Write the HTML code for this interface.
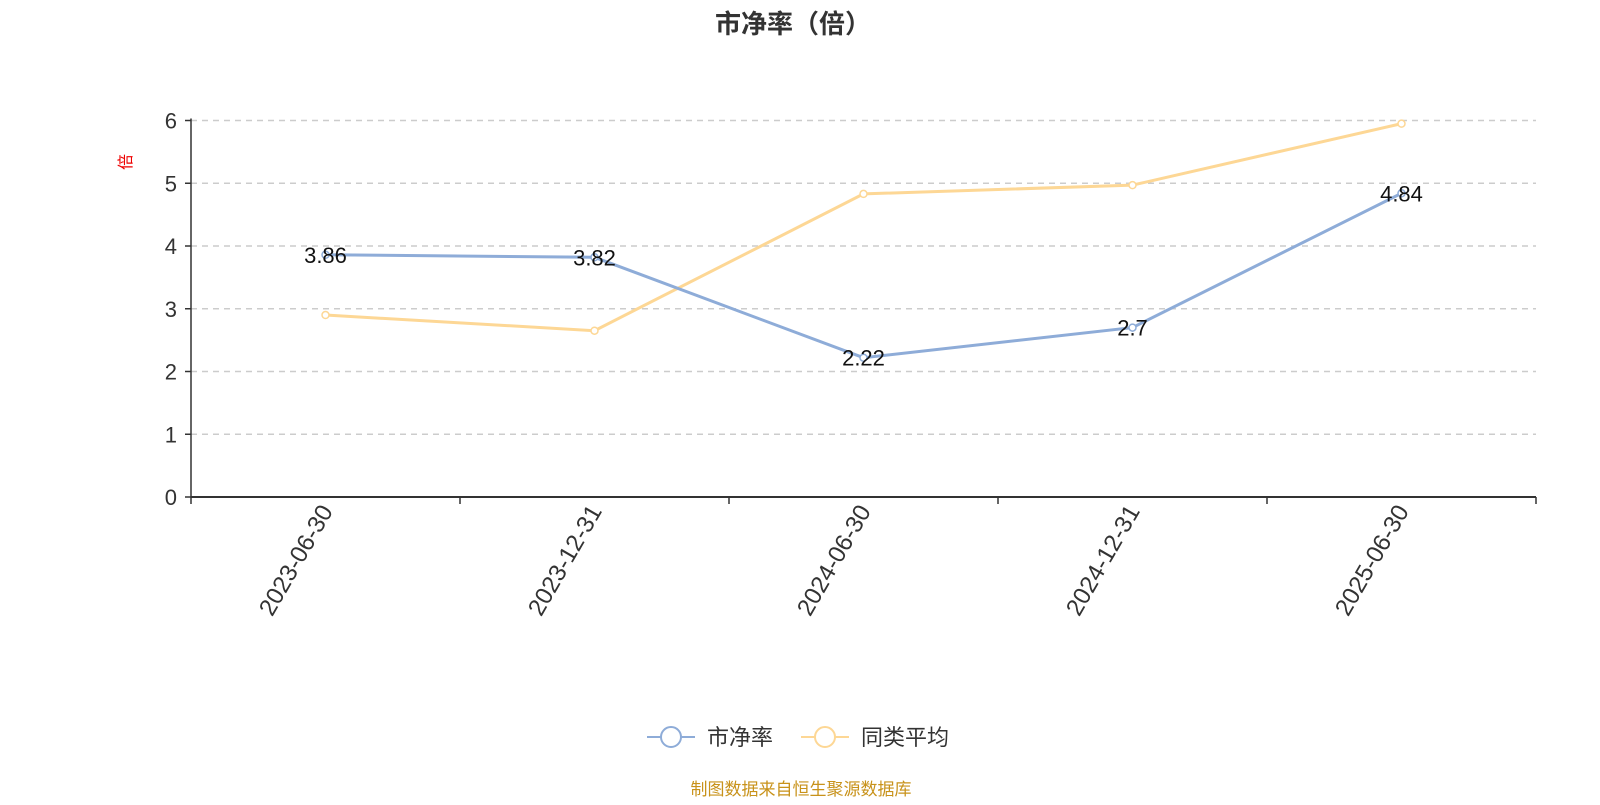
<!DOCTYPE html>
<html><head><meta charset="utf-8"><style>
body{margin:0;background:#fff;width:1600px;height:800px;overflow:hidden;font-family:"Liberation Sans","Noto Sans CJK SC",sans-serif}
</style></head><body>
<svg id="c" width="1600" height="800" xmlns="http://www.w3.org/2000/svg">
<text x="793" y="33" text-anchor="middle" font-size="26" font-weight="bold" fill="#333" font-family="Liberation Sans,Noto Sans CJK SC,sans-serif">市净率（倍）</text>
<text transform="translate(131,162) rotate(-90)" text-anchor="middle" font-size="16" fill="#e00" font-family="Noto Sans CJK SC,sans-serif">倍</text>
<g id="grid"></g><g id="axes"></g><g id="series"></g>
<g>
<g><line x1="647" y1="737" x2="695" y2="737" stroke="#8eacd8" stroke-width="2"/><circle cx="671" cy="737" r="10" fill="#fff" stroke="#8eacd8" stroke-width="2"/><text x="707" y="745" font-size="22" fill="#333" font-family="Noto Sans CJK SC,sans-serif">市净率</text></g>
<g><line x1="801" y1="737" x2="849" y2="737" stroke="#fdd795" stroke-width="2"/><circle cx="825" cy="737" r="10" fill="#fff" stroke="#fdd795" stroke-width="2"/><text x="861" y="745" font-size="22" fill="#333" font-family="Noto Sans CJK SC,sans-serif">同类平均</text></g>
</g>
<text x="801" y="795" text-anchor="middle" font-size="17" fill="#c8921a" font-family="Noto Sans CJK SC,sans-serif">制图数据来自恒生聚源数据库</text>
</svg>
<script>
const categories=["2023-06-30","2023-12-31","2024-06-30","2024-12-31","2025-06-30"];
const pbValues=[3.86,3.82,2.22,2.7,4.84];
const avgValues=[2.9,2.65,4.83,4.97,5.95];
const yTicks=[0,1,2,3,4,5,6];
const NS="http://www.w3.org/2000/svg";
const L=191,R=1536,T=120.5,B=497,YMAX=6;
const bw=(R-L)/categories.length;
const xs=i=>L+bw*(i+0.5);
const ys=v=>B-(B-T)*v/YMAX;
function mk(tag,attrs,parent){const e=document.createElementNS(NS,tag);for(const k in attrs)e.setAttribute(k,attrs[k]);parent.appendChild(e);return e;}
const grid=document.getElementById('grid'),axes=document.getElementById('axes'),ser=document.getElementById('series');
yTicks.forEach(t=>{
 if(t>0){const g=mk('line',{x1:L,x2:R,y1:ys(t),y2:ys(t),stroke:'#ccc','stroke-dasharray':'6,5','stroke-width':1.5},grid);
 
 }
 const tk=mk('line',{x1:L-6,x2:L,y1:ys(t),y2:ys(t),stroke:'#333','stroke-width':1.5},axes);
 
 
 const tl=mk('text',{x:L-14,y:ys(t)+8,'text-anchor':'end','font-size':22,fill:'#333'},axes);
 
 
 tl.textContent=t;
});
const ya=mk('line',{x1:L,x2:L,y1:T-2,y2:B,stroke:'#333','stroke-width':1.5},axes);


const xa=mk('line',{x1:L,x2:R,y1:B,y2:B,stroke:'#333','stroke-width':2},axes);


for(let i=0;i<=categories.length;i++){const tk=mk('line',{x1:L+bw*i,x2:L+bw*i,y1:B,y2:B+7,stroke:'#333','stroke-width':1.5},axes);
 
 }
categories.forEach((c,i)=>{
 const t=mk('text',{transform:`translate(${xs(i)+8},${B+14}) rotate(-60)`,'text-anchor':'end','font-size':24,fill:'#333'},axes);
 
 
 t.textContent=c;
});
function drawSeries(vals,color,name,labels){
 const p=mk('polyline',{points:vals.map((v,i)=>xs(i)+','+ys(v)).join(' '),fill:'none',stroke:color,'stroke-width':3},ser);
 
 
 vals.forEach((v,i)=>{
  const c=mk('circle',{cx:xs(i),cy:ys(v),r:3.5,fill:'#fff',stroke:color,'stroke-width':1.5},ser);
  
  
  if(labels){const t=mk('text',{x:xs(i),y:ys(v)+8,'text-anchor':'middle','font-size':22,fill:'#111'},ser);
   
   
   t.textContent=v;}
 });
}
drawSeries(avgValues,'#fdd795','avg',false);
drawSeries(pbValues,'#8eacd8','pb',true);
</script>
</body></html>
